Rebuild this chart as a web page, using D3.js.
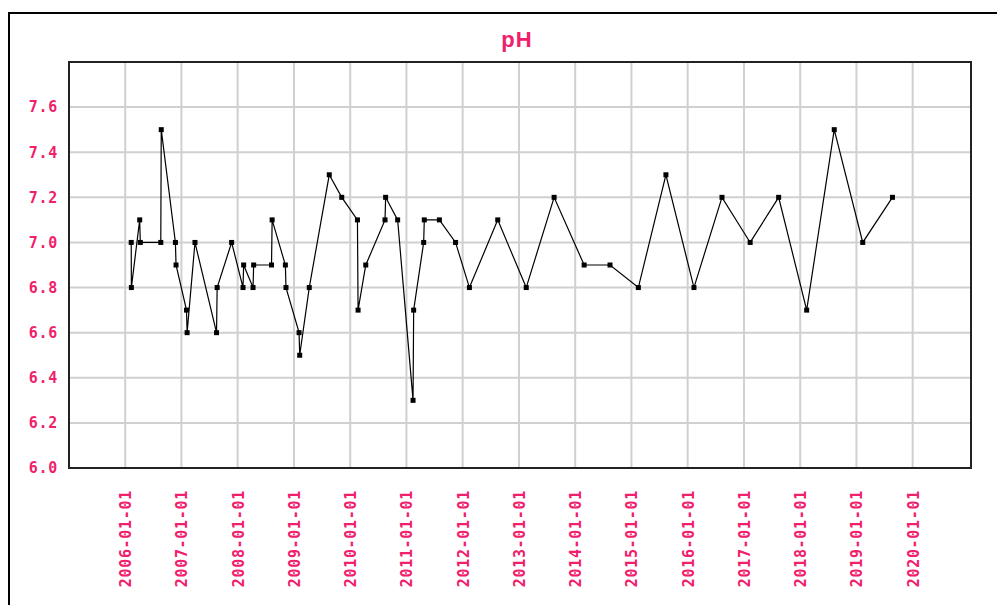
<!DOCTYPE html>
<html>
<head>
<meta charset="utf-8">
<script src="https://cdn.jsdelivr.net/npm/d3@7"></script>
<style>
    body { margin: 0; background: #fff; }
    svg { display: block; }
</style>
</head>
<body>
<svg id="chart" width="997" height="605"></svg>
<script>

// sample dates and pH readings
var dates = [
    "2006-02-09", "2006-02-10", "2006-04-05", "2006-04-09", "2006-08-20", "2006-08-23",
    "2006-11-23", "2006-11-27", "2007-02-03", "2007-02-07", "2007-03-30", "2007-08-17",
    "2007-08-21", "2007-11-23", "2008-02-05", "2008-02-09", "2008-04-10", "2008-04-14",
    "2008-08-08", "2008-08-12", "2008-11-06", "2008-11-10", "2009-02-03", "2009-02-07",
    "2009-04-10", "2009-08-18", "2009-11-07", "2010-02-17", "2010-02-21", "2010-04-12",
    "2010-08-15", "2010-08-19", "2010-11-05", "2011-02-13", "2011-02-17", "2011-04-23",
    "2011-04-27", "2011-08-03", "2011-11-16", "2012-02-14", "2012-08-16", "2013-02-17",
    "2013-08-17", "2014-02-28", "2014-08-15", "2015-02-15", "2015-08-13", "2016-02-11",
    "2016-08-11", "2017-02-10", "2017-08-14", "2018-02-12", "2018-08-10", "2019-02-11",
    "2019-08-23"
];
var phValues = [
    7.0, 6.8, 7.1, 7.0, 7.0, 7.5,
    7.0, 6.9, 6.7, 6.6, 7.0, 6.6,
    6.8, 7.0, 6.8, 6.9, 6.8, 6.9,
    6.9, 7.1, 6.9, 6.8, 6.6, 6.5,
    6.8, 7.3, 7.2, 7.1, 6.7, 6.9,
    7.1, 7.2, 7.1, 6.3, 6.7, 7.0,
    7.1, 7.1, 7.0, 6.8, 7.1, 6.8,
    7.2, 6.9, 6.9, 6.8, 7.3, 6.8,
    7.2, 7.0, 7.2, 6.7, 7.5, 7.0,
    7.2
];
var yTicks = [6.0, 6.2, 6.4, 6.6, 6.8, 7.0, 7.2, 7.4, 7.6];
var xTickYears = [2006, 2007, 2008, 2009, 2010, 2011, 2012, 2013, 2014, 2015, 2016, 2017, 2018, 2019, 2020];
var chartTitle = "pH";

var pink = "#f0206c";
var labelFont = "'DejaVu Sans Mono', monospace";

var svg = d3.select("#chart");
var parse = d3.utcParse("%Y-%m-%d");
var fmt = d3.utcFormat("%Y-%m-%d");

var plotLeft = 69, plotRight = 971, plotTop = 62, plotBottom = 468;

var points = dates.map(function (d, i) {
    return { date: parse(d), value: phValues[i] };
});

var x = d3.scaleUtc()
    .domain([parse("2005-01-01"), parse("2021-01-14")])
    .range([plotLeft, plotRight]);

var y = d3.scaleLinear()
    .domain([6.0, 7.8])
    .range([plotBottom, plotTop]);

// outer frame, runs off the right and bottom edges
svg.append("rect")
    .attr("x", 9)
    .attr("y", 13)
    .attr("width", 1000)
    .attr("height", 620)
    .attr("fill", "none")
    .attr("stroke", "#000")
    .attr("stroke-width", 2);

svg.append("text")
    .attr("x", (plotLeft + plotRight) / 2 - 3)
    .attr("y", 47)
    .attr("text-anchor", "middle")
    .attr("font-family", "'Liberation Sans', Arial, sans-serif")
    .attr("font-weight", "bold")
    .attr("font-size", 22)
    .attr("letter-spacing", 1)
    .attr("fill", pink)
    .text(chartTitle);

var xTicks = xTickYears.map(function (yr) { return new Date(Date.UTC(yr, 0, 1)); });

// grid
var grid = svg.append("g");
grid.selectAll(".vgrid")
    .data(xTicks)
    .enter().append("line")
    .attr("x1", function (d) { return x(d); })
    .attr("x2", function (d) { return x(d); })
    .attr("y1", plotTop)
    .attr("y2", plotBottom)
    .attr("stroke", "#d0d0d0")
    .attr("stroke-width", 2);

grid.selectAll(".hgrid")
    .data(yTicks.slice(1))
    .enter().append("line")
    .attr("x1", plotLeft)
    .attr("x2", plotRight)
    .attr("y1", function (d) { return y(d); })
    .attr("y2", function (d) { return y(d); })
    .attr("stroke", "#d0d0d0")
    .attr("stroke-width", 2);

// plot frame
svg.append("rect")
    .attr("x", plotLeft)
    .attr("y", plotTop)
    .attr("width", plotRight - plotLeft)
    .attr("height", plotBottom - plotTop)
    .attr("fill", "none")
    .attr("stroke", "#222")
    .attr("stroke-width", 2);

// axes: labels only, no tick marks
var yAxis = svg.append("g")
    .attr("transform", "translate(" + plotLeft + ",0)")
    .call(d3.axisLeft(y).tickValues(yTicks).tickFormat(d3.format(".1f")).tickSize(0).tickPadding(11));
yAxis.select(".domain").remove();
yAxis.selectAll("text")
    .attr("fill", pink)
    .attr("font-family", labelFont)
    .attr("font-weight", "bold")
    .attr("font-size", 15)
    .attr("letter-spacing", 0.7);

var xAxis = svg.append("g")
    .attr("transform", "translate(0," + plotBottom + ")")
    .call(d3.axisBottom(x).tickValues(xTicks).tickFormat(fmt).tickSize(0));
xAxis.select(".domain").remove();
xAxis.selectAll("text")
    .attr("fill", pink)
    .attr("font-family", labelFont)
    .attr("font-weight", "bold")
    .attr("font-size", 15)
    .attr("letter-spacing", 0.7)
    .attr("transform", "rotate(-90)")
    .attr("text-anchor", "end")
    .attr("x", -22)
    .attr("y", 0)
    .attr("dy", "0.36em");

// series
var line = d3.line()
    .x(function (d) { return x(d.date); })
    .y(function (d) { return y(d.value); });

svg.append("path")
    .datum(points)
    .attr("d", line)
    .attr("fill", "none")
    .attr("stroke", "#000")
    .attr("stroke-width", 1.2);

var m = 5;
svg.selectAll(".marker")
    .data(points)
    .enter().append("rect")
    .attr("x", function (d) { return x(d.date) - m / 2; })
    .attr("y", function (d) { return y(d.value) - m / 2; })
    .attr("width", m)
    .attr("height", m)
    .attr("fill", "#000");

</script>
</body>
</html>
